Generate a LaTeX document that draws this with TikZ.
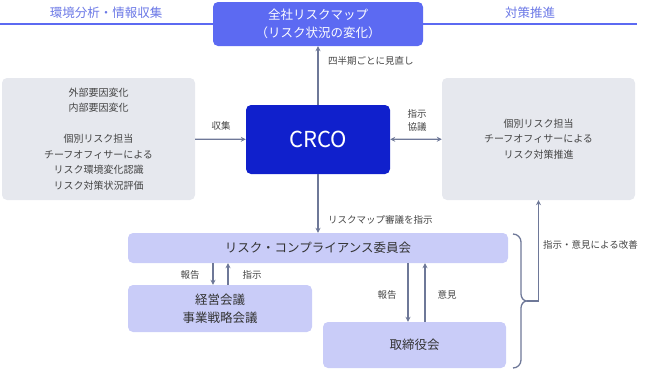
\documentclass[tikz,border=0pt]{standalone}
\usepackage{fontspec}
\setmainfont{Noto Sans CJK JP}
\usetikzlibrary{arrows.meta}
\definecolor{mapblue}{HTML}{5C6AF2}
\definecolor{crcoblue}{HTML}{1020CC}
\definecolor{lavender}{HTML}{C9CCF8}
\definecolor{boxgray}{HTML}{E6E8EE}
\definecolor{arrowgray}{HTML}{6E7898}
\definecolor{textgray}{HTML}{444444}
\definecolor{headblue}{HTML}{6B78E6}

\begin{document}
\begin{tikzpicture}[x=1pt,y=-1pt,
  >={Stealth[length=5pt,width=5pt]},
  box/.style={rounded corners=5pt, inner sep=0pt, align=center, text=textgray},
  arr/.style={arrowgray, line width=1.3pt, ->},
  lbl/.style={text=textgray, font=\fontsize{9.5}{13}\selectfont, inner sep=0pt}]
\useasboundingbox (0,0) rectangle (648,370);
\draw [mapblue, line width=2pt] (0,24) -- (637,24);
\node [text=headblue, font=\fontsize{12.5}{15}\selectfont] (env) at (106,13) {環境分析・情報収集};
\node [text=headblue, font=\fontsize{12.5}{15}\selectfont] (act) at (530,13) {対策推進};
\begin{scope}[every node/.style={box}]
\node [fill=mapblue, text=white, minimum width=210, minimum height=44,
  font=\fontsize{12.5}{18}\selectfont] (map) at (318,24) {全社リスクマップ\\（リスク状況の変化）};
\node [fill=boxgray, minimum width=193, minimum height=122,
  font=\fontsize{10}{15.5}\selectfont] (ext) at (98.5,139)
  {外部要因変化\\内部要因変化\\[15.5pt]個別リスク担当\\チーフオフィサーによる\\リスク環境変化認識\\リスク対策状況評価};
\node [fill=crcoblue, text=white, minimum width=144, minimum height=69,
  font=\fontsize{22}{26}\selectfont] (crco) at (318,139.5) {CRCO};
\node [fill=boxgray, minimum width=193, minimum height=122,
  font=\fontsize{10}{15.5}\selectfont] (cco) at (538.5,139)
  {個別リスク担当\\チーフオフィサーによる\\リスク対策推進};
\node [fill=lavender, text=black!80, minimum width=380, minimum height=30,
  font=\fontsize{12.5}{18}\selectfont] (rc) at (318,248) {リスク・コンプライアンス委員会};
\node [fill=lavender, text=black!80, minimum width=184, minimum height=47,
  font=\fontsize{12.5}{18}\selectfont] (mgmt) at (220,308.5) {経営会議\\事業戦略会議};
\node [fill=lavender, text=black!80, minimum width=183, minimum height=46,
  font=\fontsize{12.5}{18}\selectfont] (board) at (414.5,345) {取締役会};
\end{scope}
\draw [arr] (crco) -- (map);
\draw [arr] (ext) -- (crco);
\draw [arr, <->] (crco) -- (cco);
\draw [arr] (crco) -- (rc);
\draw [arr] ([xshift=-7pt]rc.south -| mgmt.north) -- ([xshift=-7pt]mgmt.north);
\draw [arr] ([xshift=8pt]mgmt.north) -- ([xshift=8pt]rc.south -| mgmt.north);
\draw [arr] ([xshift=-6.5pt]rc.south -| board.north) -- ([xshift=-6.5pt]board.north);
\draw [arr] ([xshift=10.5pt]board.north) -- ([xshift=10.5pt]rc.south -| board.north);
\coordinate (tip) at (527,301);
\draw [arrowgray, line width=1.3pt] (513,234) to[out=0,in=90] (521,242) -- (521,294)
  to[out=-90,in=180] (tip) to[out=180,in=90] (521,308) -- (521,360) to[out=-90,in=0] (513,368);
\draw [arr] (tip) -| (cco.south);
\node [lbl, anchor=west] (review) at (328,61) {四半期ごとに見直し};
\node [lbl] (collect) at (221,126) {収集};
\node [lbl, align=center] (instr) at (417,120.5) {指示\\協議};
\node [lbl, anchor=west] (deliber) at (328,220) {リスクマップ審議を指示};
\node [lbl] (rep1) at (190,275) {報告};
\node [lbl] (ins1) at (252,275) {指示};
\node [lbl] (rep2) at (387,295) {報告};
\node [lbl] (opin) at (447,295) {意見};
\node [lbl, anchor=west] (improve) at (543,245) {指示・意見による改善};
\end{tikzpicture}
\end{document}
